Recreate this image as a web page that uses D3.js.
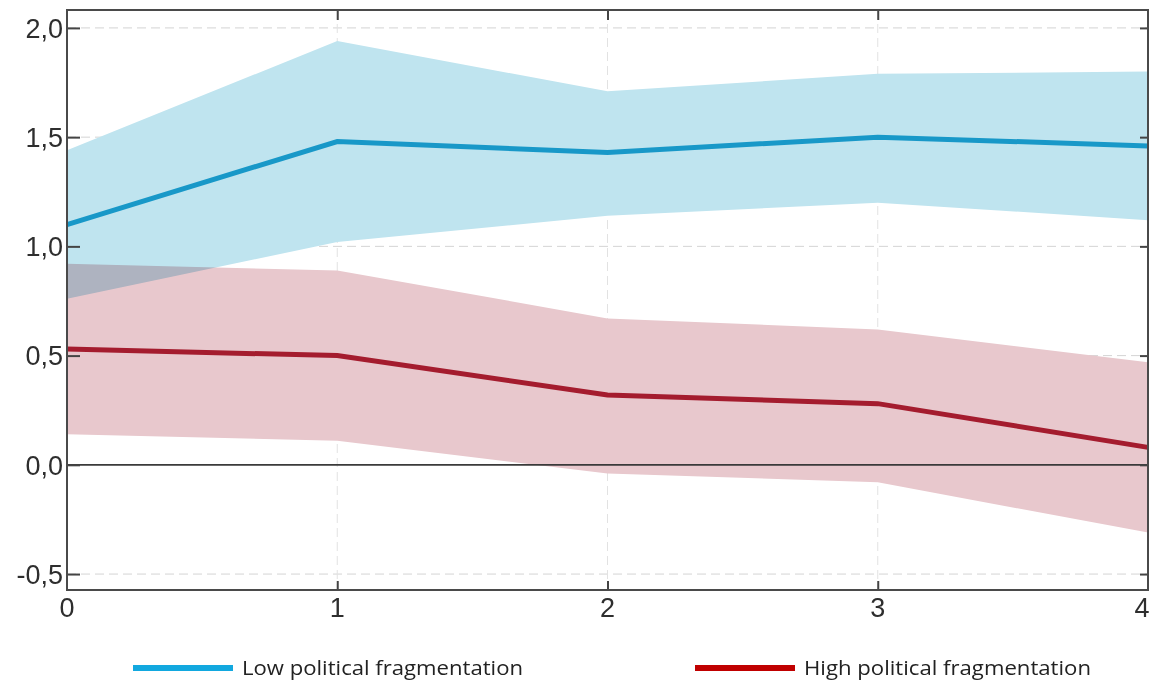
<!DOCTYPE html>
<html>
<head>
<meta charset="utf-8">
<script src="https://cdn.jsdelivr.net/npm/d3@7"></script>
<style>
  html, body { margin: 0; padding: 0; background: #fff; }
  svg { display: block; }
  .ticklabel { font-family: "Liberation Sans", Arial, Helvetica, sans-serif; font-size: 27px; fill: #2e2e2e; }
  .legendlabel { font-family: "Open Sans", sans-serif; font-size: 20px; fill: #222; }
</style>
</head>
<body>
<svg id="chart" width="1152" height="684"></svg>
<script>
// Horizon (years after shock)
const horizons = [0, 1, 2, 3, 4];
const xTickLabels = ["0", "1", "2", "3", "4"];
const yTickValues = [-0.5, 0, 0.5, 1.0, 1.5, 2.0];
const yTickLabels = ["-0,5", "0,0", "0,5", "1,0", "1,5", "2,0"];

// Low political fragmentation: point estimate and confidence band
const lowMean  = [1.10, 1.48, 1.43, 1.50, 1.46];
const lowUpper = [1.44, 1.94, 1.71, 1.79, 1.80];
const lowLower = [0.76, 1.02, 1.14, 1.20, 1.12];

// High political fragmentation: point estimate and confidence band
const highMean  = [0.53, 0.50, 0.32, 0.28, 0.08];
const highUpper = [0.92, 0.89, 0.67, 0.62, 0.47];
const highLower = [0.14, 0.11, -0.04, -0.08, -0.31];

const seriesNames = ["Low political fragmentation", "High political fragmentation"];

const svg = d3.select("#chart");
const plotL = 67, plotR = 1148, plotT = 10, plotB = 590;

const x = d3.scaleLinear().domain([0, 4]).range([plotL, plotR]);
const y = d3.scaleLinear().domain([-0.573, 2.082]).range([plotB, plotT]);

// Dashed grid
const grid = svg.append("g");
grid.selectAll("line.h").data(yTickValues.filter(v => v !== 0)).join("line")
  .attr("class", "h")
  .attr("x1", plotL).attr("x2", plotR)
  .attr("y1", d => y(d)).attr("y2", d => y(d))
  .attr("stroke", "#d4d4d4").attr("stroke-width", 1).attr("stroke-dasharray", "9,5");
grid.selectAll("line.v").data([1, 2, 3]).join("line")
  .attr("class", "v")
  .attr("x1", d => x(d)).attr("x2", d => x(d))
  .attr("y1", plotT).attr("y2", plotB)
  .attr("stroke", "#e2e2e2").attr("stroke-width", 1).attr("stroke-dasharray", "9,5");

// Confidence bands (multiplied so the overlap mixes)
const area = (lo, hi) => d3.area()
  .x((d, i) => x(horizons[i]))
  .y0((d, i) => y(lo[i]))
  .y1((d, i) => y(hi[i]))(horizons);

const bands = svg.append("g").style("isolation", "isolate");
bands.append("path").attr("d", area(lowLower, lowUpper))
  .attr("fill", "#bfe4ef").style("mix-blend-mode", "multiply");
bands.append("path").attr("d", area(highLower, highUpper))
  .attr("fill", "#e8c8cd").style("mix-blend-mode", "multiply");

// Zero line
svg.append("line")
  .attr("x1", plotL).attr("x2", plotR).attr("y1", y(0)).attr("y2", y(0))
  .attr("stroke", "#3a3a3a").attr("stroke-width", 1.8);

// Point estimates
const line = vals => d3.line()
  .x((d, i) => x(horizons[i]))
  .y((d, i) => y(vals[i]))(horizons);

svg.append("path").attr("d", line(lowMean))
  .attr("fill", "none").attr("stroke", "#1898c8").attr("stroke-width", 5);
svg.append("path").attr("d", line(highMean))
  .attr("fill", "none").attr("stroke", "#a41c2e").attr("stroke-width", 5);

// Axis ticks
const yAxis = svg.append("g").attr("transform", `translate(${plotL},0)`)
  .call(d3.axisRight(y).tickValues(yTickValues).tickFormat("").tickSize(13));
const yAxisR = svg.append("g").attr("transform", `translate(${plotR},0)`)
  .call(d3.axisLeft(y).tickValues(yTickValues).tickFormat("").tickSize(8));
const xAxisB = svg.append("g").attr("transform", `translate(0,${plotB})`)
  .call(d3.axisTop(x).tickValues([1, 2, 3]).tickFormat("").tickSize(9));
const xAxisT = svg.append("g").attr("transform", `translate(0,${plotT})`)
  .call(d3.axisBottom(x).tickValues([1, 2, 3]).tickFormat("").tickSize(10));

[yAxis, yAxisR, xAxisB, xAxisT].forEach(g => {
  g.select(".domain").remove();
  g.selectAll(".tick line").attr("stroke", "#444").attr("stroke-width", 2);
});

// Tick labels
svg.append("g").selectAll("text").data(yTickValues).join("text")
  .attr("class", "ticklabel")
  .attr("x", plotL - 4).attr("y", d => y(d))
  .attr("dy", "0.36em")
  .attr("text-anchor", "end")
  .text((d, i) => yTickLabels[i]);

svg.append("g").selectAll("text").data(horizons).join("text")
  .attr("class", "ticklabel")
  .attr("x", d => Math.min(x(d), 1142)).attr("y", 617)
  .attr("text-anchor", "middle")
  .text((d, i) => xTickLabels[i]);

// Frame
svg.append("rect")
  .attr("x", plotL).attr("y", plotT).attr("width", plotR - plotL).attr("height", plotB - plotT)
  .attr("fill", "none").attr("stroke", "#4a4a4a").attr("stroke-width", 2);

// Legend
const legendItems = [
  { name: seriesNames[0], color: "#12a8df", x: 133, len: 281 },
  { name: seriesNames[1], color: "#c00000", x: 695, len: 287 }
];
const lg = svg.append("g").selectAll("g").data(legendItems).join("g")
  .attr("transform", d => `translate(${d.x},668)`);
lg.append("line").attr("x1", 0).attr("x2", 100).attr("y1", 0).attr("y2", 0)
  .attr("stroke", d => d.color).attr("stroke-width", 6);
lg.append("text").attr("class", "legendlabel")
  .attr("x", 109).attr("y", 0).attr("dy", "0.36em")
  .attr("textLength", d => d.len)
  .attr("lengthAdjust", "spacingAndGlyphs")
  .text(d => d.name);
</script>
</body>
</html>
